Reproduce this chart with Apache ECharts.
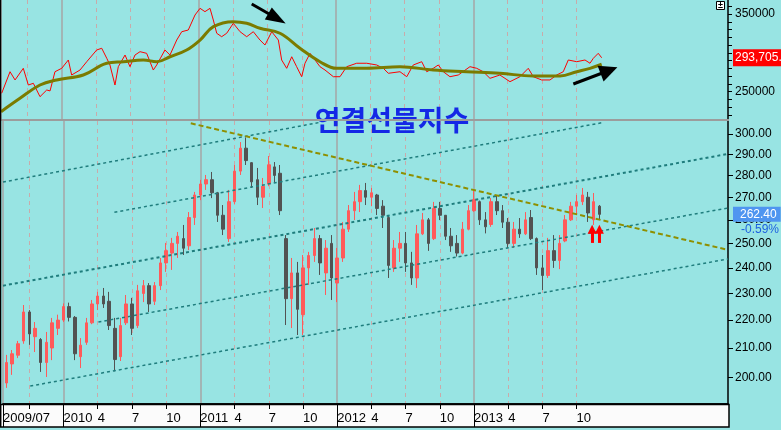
<!DOCTYPE html>
<html><head><meta charset="utf-8">
<script src="https://cdn.jsdelivr.net/npm/echarts@6/dist/echarts.min.js"></script>
<style>html,body{margin:0;padding:0;background:#fff}#c{width:784px;height:430px}</style>
</head><body><div id="c"></div>
<script>
// ---- x positions are months counted from 2009-01 ----
const xMin = 6.69, xMax = 70.28;
const yearTicks = [12, 24, 36, 48];
const quarterTicks = [9, 15, 18, 21, 27, 30, 33, 39, 42, 45, 51, 54, 57];
const priceTicks = [200, 210, 220, 230, 240, 250, 260, 270, 280, 290, 300];
const topTicks = [220000,230000,240000,250000,260000,270000,280000,290000,300000,310000,320000,330000,340000,350000,360000];
const topLabels = [250000, 350000];

// half-month candles
const candleMonth = [7,7.5,8,8.5,9,9.5,10,10.5,11,11.5,12,12.5,13,13.5,14,14.5,15,15.5,16,16.5,17,17.5,18,18.5,19,19.5,20,20.5,21,21.5,22,22.5,23,23.5,24,24.5,25,25.5,26,26.5,27,27.5,28,28.5,29,29.5,30,30.5,31,31.5,32,32.5,33,33.5,34,34.5,35,35.5,36,36.5,37,37.5,38,38.5,39,39.5,40,40.5,41,41.5,42,42.5,43,43.5,44,44.5,45,45.5,46,46.5,47,47.5,48,48.5,49,49.5,50,50.5,51,51.5,52,52.5,53,53.5,54,54.5,55,55.5,56,56.5,57,57.5,58,58.5,59];
// [open, close, low, high]
const ohlc = [
[198.1,205.0,196.5,207.6],[204.5,208.0,200.8,209.3],[207.5,211.5,206.5,212.5],[212.5,223.0,211.5,225.6],[223.0,215.0,211.1,223.7],
[214.0,217.0,208.6,219.3],[213.0,205.0,201.8,213.5],[205.0,212.0,200.1,215.7],[210.0,219.0,205.8,220.8],[217.0,220.0,214.6,222.0],
[220.0,225.0,219.3,226.2],[225.0,221.0,219.5,226.5],[221.0,208.0,205.8,221.5],[207.0,211.0,203.1,213.5],[212.0,219.0,211.1,220.8],
[219.0,226.0,218.5,227.5],[226.0,229.0,223.7,230.6],[229.0,226.0,224.5,232.1],[227.0,218.0,216.4,230.6],[217.0,206.0,202.0,220.8],
[207.0,218.0,205.5,220.8],[219.0,226.0,218.2,229.4],[226.0,217.0,214.6,228.3],[218.0,231.0,217.1,233.3],[230.0,233.0,226.7,235.2],
[233.0,226.0,223.0,234.0],[227.0,233.0,225.6,234.4],[233.0,242.0,231.3,244.0],[242.0,247.0,238.4,250.2],[246.0,250.0,239.2,252.3],
[250.0,253.0,244.0,254.8],[252.0,248.0,245.2,257.8],[249.0,261.0,247.2,263.4],[261.0,271.0,257.8,272.4],[271.0,276.0,268.7,277.9],
[276.0,278.0,273.3,280.2],[278.0,272.0,269.6,281.6],[272.0,262.0,259.1,272.4],[262.0,256.0,253.5,266.5],[252.0,268.0,250.6,273.3],
[268.0,282.0,267.0,284.9],[282.0,293.0,280.2,296.0],[293.0,287.0,284.9,298.3],[286.0,277.0,274.2,286.3],[278.0,270.0,266.5,283.5],
[270.0,275.0,265.2,278.8],[276.0,285.0,275.0,289.2],[284.0,280.0,276.9,286.3],[281.0,264.0,262.1,284.9],[252.0,228.0,218.2,253.5],
[228.0,238.0,217.1,244.0],[238.0,224.0,214.6,242.4],[222.0,240.0,214.6,245.2],[240.0,245.0,233.3,246.5],[245.0,252.0,242.4,256.5],
[252.0,242.0,237.2,253.5],[238.0,248.0,229.4,251.4],[250.0,236.0,227.5,253.5],[234.0,244.0,226.7,248.1],[244.0,256.0,242.4,259.1],
[256.0,264.0,254.8,266.5],[264.0,268.0,259.9,272.4],[268.0,273.0,263.4,275.6],[273.0,270.0,266.5,276.5],[270.0,272.0,266.0,274.2],
[271.0,265.0,262.1,271.5],[266.0,262.0,256.5,268.7],[261.0,241.0,236.0,262.1],[240.0,248.0,238.4,251.4],[248.0,250.0,242.4,254.8],
[250.0,242.0,238.4,254.8],[242.0,236.0,233.3,246.5],[236.0,254.0,232.1,257.8],[254.0,260.0,253.5,263.0],[260.0,250.0,246.9,260.8],
[252.0,265.0,251.4,267.9],[265.0,262.0,259.9,267.9],[262.0,253.0,251.4,262.1],[253.0,249.0,246.5,256.5],[250.0,246.0,244.6,253.5],
[246.0,256.0,245.5,259.1],[256.0,264.0,255.5,266.5],[264.0,269.0,263.5,273.3],[268.0,260.0,257.8,268.5],[260.0,257.0,254.2,263.4],
[258.0,268.0,257.0,269.6],[268.0,264.0,262.1,271.0],[264.0,259.0,256.5,266.5],[259.0,250.0,248.1,260.8],[250.0,256.0,248.1,259.1],
[256.0,254.0,252.3,260.8],[254.0,260.0,253.5,263.4],[261.0,252.0,251.4,264.3],[252.0,240.0,237.2,252.5],[240.0,237.0,231.3,245.2],
[237.0,247.0,236.0,252.3],[247.0,243.0,240.0,253.5],[243.0,250.0,239.5,253.5],[251.0,260.0,250.5,262.1],[260.0,266.0,259.5,267.9],
[266.0,268.0,262.1,271.0],[268.0,271.0,266.5,274.2],[270.0,263.0,259.1,272.4],[260.0,268.0,257.8,271.9],[266.0,262.4,259.9,266.5]
];

// top panel: red line and its olive moving average
const topMonth = [6.75,7.48,7.92,8.64,9.08,9.52,10.10,10.69,10.98,11.41,12.00,12.58,12.87,13.60,14.19,15.06,15.50,15.94,16.22,16.66,16.95,17.54,17.97,18.41,18.85,19.43,20.01,20.31,21.03,21.47,22.06,22.50,23.07,23.66,24.10,24.53,24.97,25.26,25.56,25.99,26.43,27.01,27.60,28.18,28.76,29.34,29.78,30.37,30.95,31.24,31.68,32.12,32.55,32.99,33.28,33.72,34.16,34.59,35.03,35.76,36.34,36.93,37.80,38.68,39.55,40.13,40.57,41.59,42.18,42.75,43.49,43.93,44.50,44.94,45.38,45.96,46.69,47.71,48.30,48.87,49.46,50.33,51.21,52.08,52.81,53.25,53.98,54.71,55.30,55.87,56.31,57.05,57.77,58.21,58.50,58.93,59.23];
const topRed = [248000,275700,265100,280100,258600,260800,243600,252200,251000,275700,280100,290800,271500,277900,288600,303700,305900,293000,284400,258600,282200,297200,282200,297200,301500,299400,277900,284400,303700,297200,316500,327200,329400,348700,357300,353000,357300,342300,325200,320800,325200,338000,327200,320800,327200,316500,310100,327200,316500,290800,280100,295000,282200,269300,286600,299400,290800,282200,277900,269300,269300,282200,286600,286600,284400,280100,273700,275700,269300,284400,288600,275700,280100,284400,275700,269300,271500,282200,280100,275700,267200,271500,262900,269300,280100,269300,265100,265100,271500,275700,290800,288600,290800,286600,293000,299400,293705.8];
const maMonth = [6.69,8.35,10.10,11.56,13.89,15.94,17.39,19.14,20.31,21.47,22.93,24.10,25.27,27.01,28.18,29.34,31.09,32.84,34.59,36.05,38.68,41.59,44.50,47.42,50.33,53.25,55.59,57.05,58.21,59.23];
const maOlive = [224300,241500,258600,265100,271500,286600,288600,290800,288600,295000,303700,316500,333700,340100,338000,331600,325200,305900,288600,280100,280100,282200,277900,275700,273700,270200,270200,275700,280100,285300];

// drawn trend lines [month1, value1, month2, value2]
const trendLines = [
  [6.69, 276.9, 34.59, 306.0],
  [16.46, 263.3, 59.23, 305.7],
  [6.69, 233.0, 70.28, 290.2],
  [15.06, 219.3, 70.28, 265.2],
  [9.08, 197.1, 70.28, 243.6]
];
const oliveTrend = [23.16, 305.4, 70.28, 247.3];
const upArrows = [[58.36, 250.2, 256.0], [59.0, 250.2, 256.0]];
const topArrows = [[28.62, 362870, 30.83, 344200, 14, 20], [56.75, 259910, 59.87, 277300, 17, 18]];
const lastPrice = 262.40, lastChange = '-0.59%', lastTop = 293705.8;

const chart = echarts.init(document.getElementById('c'), null, {renderer: 'canvas'});
const axisFont = 'Liberation Sans';
const yearFmt = v => v < 12 ? '2009/07' : String(2009 + Math.round(v / 12));
const qFmt = v => (v === 9 ? '' : String((v % 12) + 1));
const hidden = {color: 'rgba(0,0,0,0)', width: 0, type: 'solid'};

function xAx(grid, ticks, isYear, showAxis) {
  return {
    type: 'value', gridIndex: grid, min: xMin, max: xMax, position: 'bottom',
    axisLine: {show: showAxis, onZero: false, lineStyle: {color: '#000', width: 1.5}},
    axisTick: {show: showAxis, customValues: ticks, length: isYear ? 23 : 5, lineStyle: {color: '#000', width: 1}},
    axisLabel: {show: showAxis, customValues: isYear ? [xMin].concat(yearTicks) : quarterTicks, formatter: isYear ? yearFmt : qFmt,
      align: 'left', margin: 8, color: '#000', fontSize: 13, fontFamily: 'Liberation Sans Narrow, Liberation Sans'},
    splitLine: {show: true, lineStyle: isYear ? {color: '#a6a6a6', width: 1.5, type: 'solid'} : {color: '#c9aaaa', width: 1, type: [4, 4]}}
  };
}

const option = {
  animation: false,
  backgroundColor: '#98e4e3',
  title: {text: '연결선물지수', left: 'center', top: 101,
    textStyle: {fontSize: 28, fontWeight: 'bold', color: '#1428e6', fontFamily: 'Noto Sans CJK KR'}},
  grid: [
    {left: 1, right: 56, top: 0, height: 119},
    {left: 1, right: 56, top: 121, height: 283}
  ],
  xAxis: [
    xAx(0, [xMin].concat(yearTicks), true, false),
    xAx(0, quarterTicks, false, false),
    xAx(1, [xMin].concat(yearTicks), true, true),
    xAx(1, quarterTicks, false, true)
  ],
  yAxis: [
    {type: 'value', gridIndex: 0, position: 'right', min: 214865, max: 368018,
      axisLine: {show: true, lineStyle: {color: '#000', width: 1.5}},
      axisTick: {show: true, customValues: topTicks, length: 4, lineStyle: {color: '#000'}},
      axisLabel: {customValues: topLabels, formatter: v => String(Math.round(v)), margin: 7, color: '#000', fontSize: 12, fontFamily: axisFont},
      splitLine: {show: false}},
    {type: 'log', gridIndex: 1, position: 'right', min: 191.29, max: 306.57,
      axisLine: {show: true, lineStyle: {color: '#000', width: 1.5}},
      axisTick: {show: true, customValues: priceTicks, length: 5, lineStyle: {color: '#000'}},
      axisLabel: {customValues: priceTicks, formatter: v => Number(v).toFixed(2), margin: 7, color: '#000', fontSize: 12, fontFamily: axisFont},
      splitLine: {show: false}, minorTick: {show: false}}
  ],
  series: [
    {type: 'line', name: 'top', xAxisIndex: 0, yAxisIndex: 0, symbol: 'none', clip: false,
      data: topMonth.map((m, i) => [m, topRed[i]]),
      lineStyle: {color: '#ff0000', width: 1}, z: 3,
      markLine: {silent: true, animation: false, symbol: ['none', 'none'],
        label: {show: false},
        data: topArrows.map(a => [
          {coord: [a[0], a[1]], symbol: 'none', lineStyle: {color: '#000', width: 3, type: 'solid'}},
          {coord: [a[2], a[3]], symbol: 'triangle', symbolSize: [a[4], a[5]]}
        ]).concat([
          {yAxis: lastTop, lineStyle: hidden,
            label: {show: true, opacity: 1, position: 'end', distance: 5, formatter: '293,705.8', color: '#fff', backgroundColor: '#ff0000',
              padding: [3, 3, 2, 2], fontSize: 12, fontFamily: axisFont}}
        ])}
    },
    {type: 'line', name: 'ma', xAxisIndex: 0, yAxisIndex: 0, symbol: 'none', smooth: 0.4,
      data: maMonth.map((m, i) => [m, maOlive[i]]),
      lineStyle: {color: '#7b7b00', width: 3}, z: 4},
    {type: 'candlestick', name: 'price', xAxisIndex: 2, yAxisIndex: 1, clip: false,
      data: candleMonth.map((m, i) => [m].concat(ohlc[i])),
      encode: {x: 0, y: [1, 2, 3, 4]},
      barWidth: 3,
      itemStyle: {color: '#ff5a5a', color0: '#525252', borderColor: '#ff5a5a', borderColor0: '#525252', borderWidth: 1},
      markLine: {silent: true, animation: false, symbol: ['none', 'none'], label: {show: false},
        data: trendLines.map((t, i) => [
          {coord: [t[0], t[1]], lineStyle: {color: '#1f7d7d', width: i === 2 ? 2 : 1.5, type: [3, 3]}},
          {coord: [t[2], t[3]]}
        ]).concat([[
          {coord: [oliveTrend[0], oliveTrend[1]], lineStyle: {color: '#8f8f00', width: 2, type: [5, 3]}},
          {coord: [oliveTrend[2], oliveTrend[3]]}
        ]]).concat(upArrows.map(a => [
          {coord: [a[0], a[1]], symbol: 'none', lineStyle: {color: '#ff0000', width: 3, type: 'solid'}},
          {coord: [a[0], a[2]], symbol: 'triangle', symbolSize: [9, 9]}
        ])).concat([
          {yAxis: lastPrice, lineStyle: hidden,
            label: {show: true, opacity: 1, position: 'end', distance: 5, formatter: lastPrice.toFixed(2), color: '#fff', backgroundColor: '#4f95f0',
              padding: [2, 4, 1, 7], fontSize: 12, fontFamily: axisFont}},
          {yAxis: 255.6, lineStyle: hidden,
            label: {show: true, opacity: 1, position: 'end', distance: 13, formatter: lastChange, color: '#1c5fe0', fontSize: 12, fontFamily: axisFont}}
        ])}
    }
  ],
  graphic: [
    {type: 'rect', z: -1, shape: {x: 0.5, y: 404.5, width: 728.5, height: 22.5}, style: {fill: '#fbfbfb', stroke: '#000', lineWidth: 1.5}},
    {type: 'line', z: 50, shape: {x1: 0, y1: 120, x2: 729, y2: 120}, style: {stroke: '#9c9c9c', lineWidth: 2}},
    {type: 'line', z: 50, shape: {x1: 0.5, y1: 0, x2: 0.5, y2: 427}, style: {stroke: '#000', lineWidth: 1.5}},
    {type: 'rect', z: 100, shape: {x: 781, y: 0, width: 3, height: 430}, style: {fill: '#ffffff'}},
    {type: 'rect', z: 50, shape: {x: 716.5, y: 1.5, width: 8, height: 8}, style: {fill: '#fff', stroke: '#000', lineWidth: 1}},
    {type: 'text', z: 51, x: 718, y: 1, style: {text: '±', fontSize: 9, fill: '#000', fontWeight: 'bold'}}
  ]
};
chart.setOption(option);
</script></body></html>
